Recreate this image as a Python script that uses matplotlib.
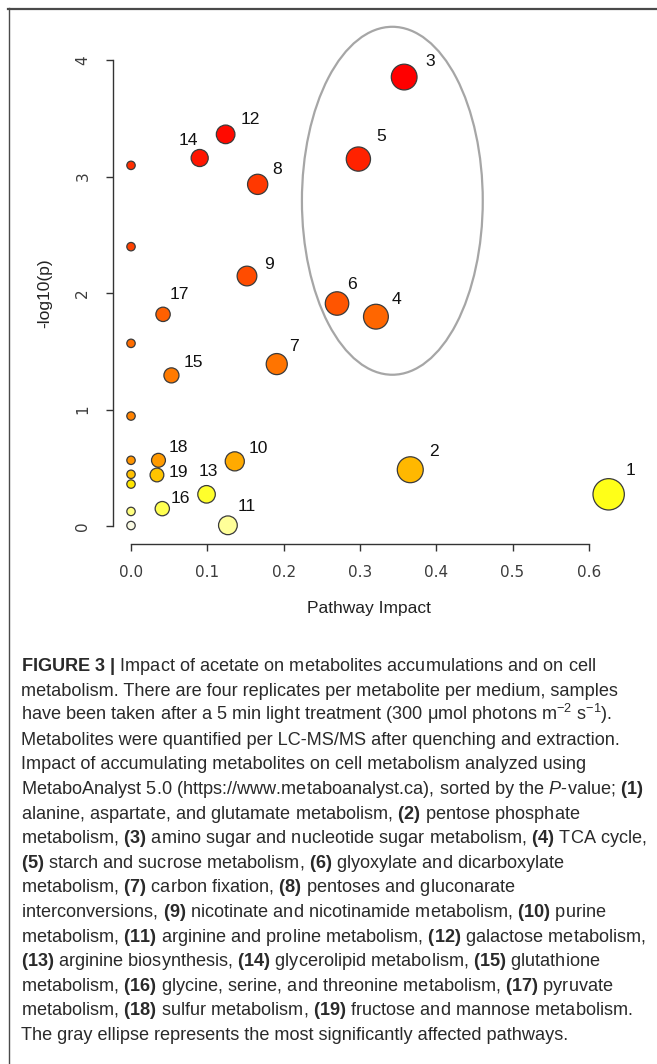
import numpy as np
import matplotlib
matplotlib.use("Agg")
import matplotlib.pyplot as plt
from matplotlib.patches import Ellipse
from matplotlib.lines import Line2D

# Pathway summary (MetaboAnalyst): impact vs -log10(p), ordered by p-value
impact = [0.358, 0.124, 0.090, 0.298, 0.0, 0.166, 0.0, 0.152, 0.270, 0.042,
          0.321, 0.0, 0.191, 0.053, 0.0, 0.0, 0.036, 0.136, 0.366, 0.0,
          0.034, 0.0, 0.099, 0.626, 0.041, 0.0, 0.127, 0.0]
neg_log_p = [3.854, 3.362, 3.159, 3.150, 3.096, 2.933, 2.398, 2.146, 1.910, 1.817,
             1.797, 1.568, 1.390, 1.293, 0.944, 0.564, 0.564, 0.555, 0.483, 0.444,
             0.438, 0.360, 0.272, 0.272, 0.149, 0.125, 0.006, 0.004]
pathway_id = ["3", "12", "14", "5", "", "8", "", "9", "6", "17",
              "4", "", "7", "15", "", "", "18", "10", "2", "",
              "19", "", "13", "1", "16", "", "11", ""]

x_ticks = [0.0, 0.1, 0.2, 0.3, 0.4, 0.5, 0.6]
y_ticks = [0, 1, 2, 3, 4]

# heat-style fill, red = most significant
fill_colors = ["#FF0000", "#FF0A00", "#FF1500", "#FF2200", "#FF2E00", "#FF3800",
               "#FF4200", "#FF4C00", "#FF5500", "#FF6000", "#FF6600", "#FF6C00",
               "#FF7400", "#FF7A00", "#FF8200", "#FF9400", "#FF9A00", "#FFAA00",
               "#FFB800", "#FFC000", "#FFC400", "#FFE600", "#FFFF2C", "#FFFF18",
               "#FFFF50", "#FFFF80", "#FFFF99", "#FAFAE4"]

# label placement relative to circle centre (pixels, right / up)
label_offsets = {"3": (26, 16), "12": (25, 15), "14": (-11, 18), "5": (23, 23),
                 "8": (19, 15), "9": (22, 12), "6": (15, 19), "17": (16, 20),
                 "4": (21, 17), "7": (17, 18), "15": (22, 13), "18": (20, 13),
                 "10": (24, 13), "2": (24, 18), "19": (21, 2), "13": (2, 23),
                 "1": (22, 24), "16": (18, 10), "11": (19, 19)}

W, H = 657, 1064
PT = 0.72  # points per pixel at dpi 100

fig = plt.figure(figsize=(W / 100, H / 100), dpi=100)

def fx(px):
    return px / W

def fy(py):
    return 1 - py / H

# outer frame (top and left rules)
fig.add_artist(Line2D([fx(8), 1], [fy(8.5), fy(8.5)], color="#4a4a4a", lw=1.6))
fig.add_artist(Line2D([fx(8.5), fx(8.5)], [fy(8), 0], color="#4a4a4a", lw=1.0))

ax = fig.add_axes([fx(113), fy(544), (634.6 - 113) / W, (544 - 48.4) / H])
ax.set_xlim(-0.0236, 0.66)
ax.set_ylim(-0.1545, 4.1)

radius_px = 4.2 + 14.5 * np.sqrt(np.array(impact))
sizes = (2 * radius_px * PT) ** 2
ax.scatter(impact, neg_log_p, s=sizes, c=fill_colors, edgecolors="#3a3a3a",
           linewidths=0.9, zorder=3, clip_on=False)

for xi, yi, lab in zip(impact, neg_log_p, pathway_id):
    if not lab:
        continue
    dx, dy = label_offsets[lab]
    ax.annotate(lab, (xi, yi), xytext=(dx * PT, dy * PT), textcoords="offset points",
                ha="center", va="center", fontsize=12.6, family="Liberation Sans",
                color="#111111", zorder=4)

# most significantly affected pathways
ax.add_patch(Ellipse((0.3425, 2.792), 0.237, 2.987, fill=False,
                     edgecolor="#a6a6a6", lw=1.6, zorder=2, clip_on=False))

for side in ["top", "right"]:
    ax.spines[side].set_visible(False)
ax.spines["left"].set_bounds(0, 4)
ax.spines["bottom"].set_bounds(0, 0.6)
for side in ["left", "bottom"]:
    ax.spines[side].set_color("#333333")
    ax.spines[side].set_linewidth(1.0)

ax.set_xticks(x_ticks)
ax.set_xticklabels([f"{t:.1f}" for t in x_ticks])
ax.set_yticks(y_ticks)
ax.set_yticklabels([str(t) for t in y_ticks])
ax.tick_params(direction="out", length=5.3, width=1.0, color="#333333",
               labelsize=11, labelcolor="#3c3c3c")
ax.tick_params(axis="x", pad=10.0)
ax.tick_params(axis="y", pad=11.0)
for lbl in ax.get_yticklabels():
    lbl.set_rotation(90)
    lbl.set_va("center")
    lbl.set_ha("right")

fig.text(fx(369), fy(608), "Pathway Impact", ha="center", va="center",
         fontsize=12.5, family="Liberation Sans", color="#222222")
fig.text(fx(45), fy(293), "-log10(p)", ha="center", va="center", rotation=90,
         fontsize=12.5, family="Liberation Sans", color="#222222")

# figure caption
plt.rcParams["mathtext.fontset"] = "custom"
plt.rcParams["mathtext.rm"] = "Liberation Sans"
plt.rcParams["mathtext.bf"] = "Liberation Sans:bold"
plt.rcParams["mathtext.it"] = "Liberation Sans:italic"

caption_lines = [
    r"$\mathbf{FIGURE\ 3\ |}$ Impact of acetate on metabolites accumulations and on cell",
    r"metabolism. There are four replicates per metabolite per medium, samples",
    r"have been taken after a 5 min light treatment (300 μmol photons m$^{-2}$ s$^{-1}$).",
    r"Metabolites were quantified per LC-MS/MS after quenching and extraction.",
    r"Impact of accumulating metabolites on cell metabolism analyzed using",
    r"MetaboAnalyst 5.0 (https://www.metaboanalyst.ca), sorted by the $\mathit{P}$-value; $\mathbf{(1)}$",
    r"alanine, aspartate, and glutamate metabolism, $\mathbf{(2)}$ pentose phosphate",
    r"metabolism, $\mathbf{(3)}$ amino sugar and nucleotide sugar metabolism, $\mathbf{(4)}$ TCA cycle,",
    r"$\mathbf{(5)}$ starch and sucrose metabolism, $\mathbf{(6)}$ glyoxylate and dicarboxylate",
    r"metabolism, $\mathbf{(7)}$ carbon fixation, $\mathbf{(8)}$ pentoses and gluconarate",
    r"interconversions, $\mathbf{(9)}$ nicotinate and nicotinamide metabolism, $\mathbf{(10)}$ purine",
    r"metabolism, $\mathbf{(11)}$ arginine and proline metabolism, $\mathbf{(12)}$ galactose metabolism,",
    r"$\mathbf{(13)}$ arginine biosynthesis, $\mathbf{(14)}$ glycerolipid metabolism, $\mathbf{(15)}$ glutathione",
    r"metabolism, $\mathbf{(16)}$ glycine, serine, and threonine metabolism, $\mathbf{(17)}$ pyruvate",
    r"metabolism, $\mathbf{(18)}$ sulfur metabolism, $\mathbf{(19)}$ fructose and mannose metabolism.",
    r"The gray ellipse represents the most significantly affected pathways.",
]
for i, line in enumerate(caption_lines):
    fig.text(fx(21), fy(671 + i * 24.6), line, ha="left", va="baseline",
             fontsize=13.1, family="Liberation Sans", color="#2a2a2a")

fig.savefig("out.png", dpi=100)
